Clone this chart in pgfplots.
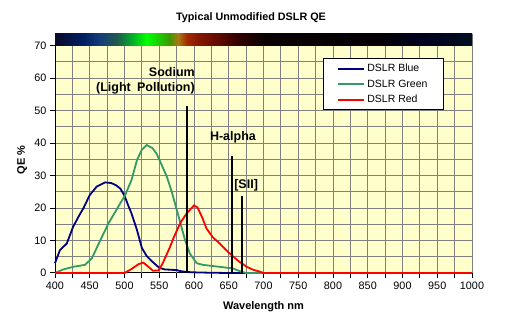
\documentclass[border=0pt]{standalone}
\usepackage{fontspec}
\setmainfont{Liberation Sans}
\usepackage{pgfplots}
\pgfplotsset{compat=1.18}
\definecolor{bgyellow}{RGB}{255,255,204}
\definecolor{gridgray}{RGB}{128,128,128}
\definecolor{dblue}{RGB}{0,0,128}
\definecolor{dgreen}{RGB}{51,153,102}
\definecolor{dred}{RGB}{255,0,0}
\pgfdeclarehorizontalshading{spectrum}{100bp}{
 rgb(0bp)=(0.04,0.04,0.16);
 rgb(25bp)=(0.04,0.04,0.16);
 rgb(28.42bp)=(0,0.12,0.39);
 rgb(30.42bp)=(0.08,0.24,0.47);
 rgb(32.42bp)=(0.12,0.35,0.31);
 rgb(34.33bp)=(0,0.7,0.16);
 rgb(36bp)=(0,1,0);
 rgb(37.58bp)=(0.12,0.78,0);
 rgb(38.75bp)=(0.24,0.59,0);
 rgb(39.75bp)=(0.67,0.47,0.08);
 rgb(40.83bp)=(0.63,0.16,0);
 rgb(42.42bp)=(0.51,0.08,0);
 rgb(44.42bp)=(0.39,0.04,0);
 rgb(46.83bp)=(0.2,0,0);
 rgb(50bp)=(0.04,0,0);
 rgb(63.92bp)=(0.02,0,0.02);
 rgb(68.75bp)=(0,0,0.12);
 rgb(75bp)=(0,0.06,0.12);
 rgb(100bp)=(0,0.06,0.12)}
\begin{document}
\begin{tikzpicture}
\useasboundingbox (0,0) rectangle (508bp,326bp);
\begin{axis}[
  at={(55bp,53bp)}, anchor=south west,
  scale only axis, width=417bp, height=239bp,
  xmin=400, xmax=1000, ymin=0, ymax=73.6,
  axis lines=left, axis line style={-, black, line width=1bp},
  axis background/.style={fill=bgyellow},
  xtick={400,450,...,1000},
  extra x ticks={425,475,...,975}, extra x tick labels={},
  extra x tick style={grid=major},
  ytick={0,10,...,70},
  minor ytick={5,15,...,65},
  minor tick length=0pt,
  major tick length=5bp,
  tick align=outside,
  tick style={black, line width=1bp},
  grid=both,
  major grid style={gridgray, line width=1bp},
  minor grid style={gridgray, line width=1bp},
  /pgf/number format/assume math mode=true,
  /pgf/number format/1000 sep={},
  ticklabel style={font=\fontsize{10.8bp}{12bp}\selectfont},
  xlabel={Wavelength nm},
  ylabel={QE \%},
  label style={font=\fontsize{11bp}{13bp}\selectfont\bfseries},
  xlabel style={at={(axis description cs:0.5,-0.141)}, anchor=center},
  ylabel style={at={(axis description cs:-0.079,0.473)}, anchor=center, rotate=0},
  legend style={at={(axis description cs:0.642,0.898)}, anchor=north west,
    draw=black, line width=1bp, fill=white,
    font=\fontsize{10.5bp}{12bp}\selectfont,
    inner xsep=14bp, inner ysep=3.5bp, row sep=2.5bp,
    nodes={inner sep=2bp}},
  legend cell align=left,
  legend image code/.code={\draw[#1, line width=2.2bp] (0bp,0bp) -- (26bp,0bp);},
  clip=false,
]
\fill[shading=spectrum] (axis cs:400,70) rectangle (axis cs:1000,73.6);
\addplot[dblue, line width=1.8bp] coordinates {
 (400,3) (407,7) (417,9.1) (426,14.2) (435,17.8) (441,20) (450,24) (460,26.6)
 (472,27.9) (481,27.7) (488,27) (494,26) (500,23.8) (505,21) (510,18.4)
 (518,13.2) (525,7.7) (532,5.2) (540,3.5) (550,1.6) (558,1.1) (575,0.9)
 (580,0.6) (590,0.3) (600,0.2) (620,0.1) (650,0) (700,0) (1000,0)};
\addlegendentry{DSLR Blue}
\addplot[dgreen, line width=1.8bp] coordinates {
 (400,0) (412,1.1) (426,1.9) (443,2.5) (453,4.5) (465,10) (477,15.3) (491,20.4)
 (501,24) (510,28.6) (518,34.8) (525,38) (532,39.4) (540,38.5) (546,36.8)
 (552,34) (561,29.6) (568,25) (578,17.3) (587,10.2) (594,6) (604,3) (613,2.5)
 (625,2.2) (637,1.9) (656,1.4) (668,0.4) (675,0) (1000,0)};
\addlegendentry{DSLR Green}
\addplot[dred, line width=1.8bp] coordinates {
 (400,0) (500,0) (510,1.2) (520,2.7) (527,3.2) (534,2) (541,0.7) (549,0.8)
 (555,3) (565,7.8) (571,11) (580,15.3) (590,18.5) (600,20.8) (605,20.2)
 (612,17) (618,13.7) (627,11) (637,9.1) (645,7.3) (654,5.5) (665,3.5)
 (676,1.9) (685,1) (695,0.4) (700,0) (1000,0)};
\addlegendentry{DSLR Red}
\addplot[black, line width=2.5bp, forget plot] coordinates {(590,0) (590,51.5)};
\addplot[black, line width=2.5bp, forget plot] coordinates {(655,0) (655,36)};
\addplot[black, line width=2.5bp, forget plot] coordinates {(669,0) (669,23.7)};
\node[anchor=east, inner sep=0pt, font=\fontsize{12.5bp}{14bp}\selectfont\bfseries] at (axis cs:601.4,61.8) {Sodium};
\node[anchor=east, inner sep=0pt, font=\fontsize{12.5bp}{14bp}\selectfont\bfseries] at (axis cs:601.4,56.9) {(Light\hspace{0.5em}Pollution)};
\node[inner sep=0pt, font=\fontsize{12.5bp}{14bp}\selectfont\bfseries] at (axis cs:656,41.9) {H-alpha};
\node[inner sep=0pt, font=\fontsize{12.5bp}{14bp}\selectfont\bfseries] at (axis cs:675,27) {[SII]};
\end{axis}
\node[font=\fontsize{10.8bp}{13bp}\selectfont\bfseries] at (251bp,308bp) {Typical Unmodified DSLR QE};
\end{tikzpicture}
\end{document}
